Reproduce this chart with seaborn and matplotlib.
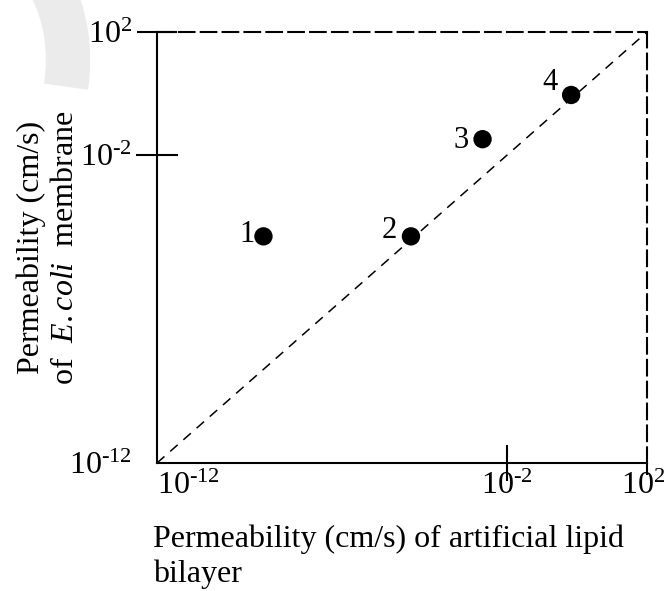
import matplotlib.pyplot as plt
import seaborn as sns
import pandas as pd
from matplotlib.patches import Arc
from matplotlib.markers import TICKDOWN
from matplotlib.transforms import ScaledTranslation

# Dati (nolasīti no attēla, log skala)
point_labels = ['1', '2', '3', '4']
lipid_perm = [1.1e-9, 1.8e-5, 2.0e-3, 6.8e-1]   # x: mākslīgais lipīdu dubultslānis
ecoli_perm = [2.3e-5, 2.3e-5, 3.3e-2, 9.0e-1]   # y: E.coli membrāna
diag_line = [1e-12, 1e2]

x_ticks = [1e-12, 1e-2, 1e2]
x_tick_labels = [r'$10^{\text{-}12}$', r'$10^{\text{-}2}$', r'$10^{2}$']
y_ticks = [1e-12, 1e-2, 1e2]
y_tick_labels = [r'$10^{\text{-}12}$', r'$10^{\text{-}2}$', r'$10^{2}$']

df = pd.DataFrame({'label': point_labels, 'lipid': lipid_perm, 'ecoli': ecoli_perm})

sns.set_theme(style='white')
plt.rcParams['font.family'] = ['Liberation Serif', 'DejaVu Serif']
plt.rcParams['mathtext.fontset'] = 'custom'
plt.rcParams['mathtext.rm'] = 'Liberation Serif'
plt.rcParams['mathtext.it'] = 'Liberation Serif:italic'

FS = 23

fig = plt.figure(figsize=(6.67, 5.91), dpi=100)
ax = fig.add_axes([157 / 667, 1 - 463 / 591, 490 / 667, 431 / 591])
ax.patch.set_alpha(0)

# watermark loka fragments augšējā kreisajā stūrī
wm = Arc((0.0, 5.31), 1.36, 2.2, theta1=-22, theta2=95, color='#ebebeb',
         linewidth=32, transform=fig.dpi_scale_trans, zorder=0)
wm.set_capstyle('butt')
fig.add_artist(wm)

ax.plot(diag_line, diag_line, color='black', linewidth=1.1,
        linestyle=(0, (6.5, 5)), zorder=1)

sns.scatterplot(data=df, x='lipid', y='ecoli', color='black', s=175,
                edgecolor='none', legend=False, ax=ax, zorder=3)

ax.set_xscale('log')
ax.set_yscale('log')
ax.set_xlim(1e-12, 1e2)
ax.set_ylim(1e-12, 1e2)

label_offsets = [(-6, 1), (-10, 4), (-10, -1), (-10, 9)]
for lab, xv, yv, off in zip(point_labels, lipid_perm, ecoli_perm, label_offsets):
    ax.annotate(lab, (xv, yv), xytext=off, textcoords='offset points',
                ha='right', va='center', fontsize=22, color='black')

for side in ['left', 'bottom', 'top', 'right']:
    ax.spines[side].set_visible(True)
    ax.spines[side].set_color('black')
    ax.spines[side].set_linewidth(1.5)
ax.spines['top'].set_linestyle((0, (7.5, 3)))
ax.spines['right'].set_linestyle((0, (7.5, 3)))

ax.set_xticks(x_ticks)
ax.set_xticklabels(x_tick_labels)
ax.set_yticks(y_ticks)
ax.set_yticklabels(y_tick_labels)
ax.minorticks_off()
ax.tick_params(axis='x', bottom=True, length=0, pad=6, labelsize=FS, colors='black')
ax.tick_params(axis='y', left=True, length=0, pad=18, labelsize=FS, colors='black')
xlabs = ax.get_xticklabels()
xlabs[0].set_ha('left')
xlabs[2].set_transform(xlabs[2].get_transform() +
                       ScaledTranslation(-0.04, 0, fig.dpi_scale_trans))

xt = ax.xaxis.get_major_ticks()
xt[1].tick1line.set_marker('|')
xt[1].tick1line.set_markersize(26)
xt[2].tick1line.set_marker(TICKDOWN)
xt[2].tick1line.set_markersize(8.6)
yt = ax.yaxis.get_major_ticks()
yt[1].tick1line.set_marker('_')
yt[1].tick1line.set_markersize(30)
yt[2].tick1line.set_marker('_')
yt[2].tick1line.set_markersize(29)
for t in xt + yt:
    t.tick1line.set_visible(True)
    t.tick1line.set_markeredgewidth(1.5)
    t.tick1line.set_color('black')

ax.set_xlabel('Permeability (cm/s) of artificial lipid\nbilayer', fontsize=FS,
              loc='left', color='black', linespacing=1.25)
ax.xaxis.set_label_coords(-0.008, -0.142)
ax.xaxis.label.set_va('top')

ax.set_ylabel('Permeability (cm/s)\nof  $\\mathit{E.coli}$  membrane', fontsize=FS,
              color='black', linespacing=1.22)
ax.yaxis.set_label_coords(-0.158, 0.5)

plt.savefig('out.png', dpi=100)
plt.close()
